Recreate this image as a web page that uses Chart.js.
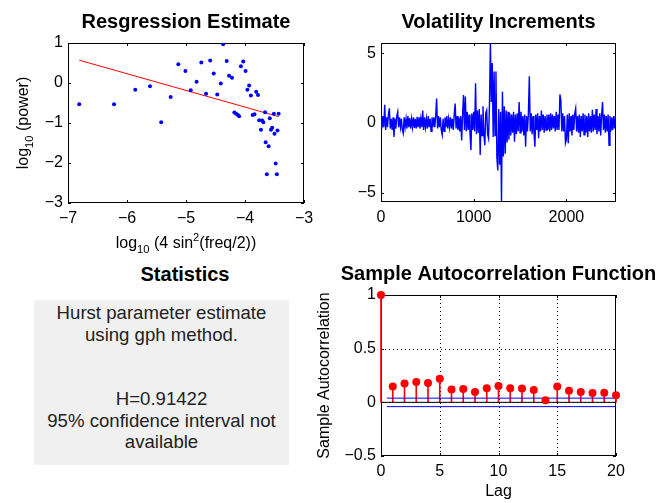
<!DOCTYPE html>
<html>
<head>
<meta charset="utf-8">
<script src="https://cdn.jsdelivr.net/npm/chart.js@4/dist/chart.umd.min.js"></script>
<style>
  body { margin: 0; background: #fff; }
  #page { position: relative; width: 659px; height: 503px; overflow: hidden; font-family: "Liberation Sans", Arial, sans-serif; }
  canvas { position: absolute; }
  #statsTitle { position: absolute; left: 85px; width: 200px; top: 262px; height: 24px; line-height: 24px; text-align: center; font-weight: bold; font-size: 20px; color: #000; }
  #statsBox { position: absolute; left: 34px; top: 300px; width: 255px; height: 165px; background: #f0f0f0; color: #222; font-size: 18.6px; line-height: 21.5px; text-align: center; padding-top: 2px; box-sizing: border-box; }
</style>
</head>
<body>
<div id="page">
  <canvas id="regChart" width="330" height="255" style="left:0;top:0"></canvas>
  <canvas id="volChart" width="329" height="255" style="left:330px;top:0"></canvas>
  <div id="statsTitle">Statistics</div>
  <div id="statsBox">Hurst parameter estimate<br>using gph method.<br><br><br>H=0.91422<br>95% confidence interval not<br>available</div>
  <canvas id="acfChart" width="359" height="248" style="left:300px;top:255px"></canvas>
</div>
<script>
const FONT = '"Liberation Sans", Arial, Helvetica, sans-serif';
Chart.defaults.font.family = FONT;
Chart.defaults.color = '#000';

// regression estimate (log periodogram)
const regX = [-6.81,-6.22,-5.86,-5.61,-5.42,-5.26,-5.13,-5.01,-4.92,-4.82,-4.74,-4.66,-4.59,-4.53,-4.47,-4.41,-4.37,-4.31,-4.27,-4.22,
  -4.18,-4.15,-4.12,-4.10,-4.07,-4.03,-3.99,-3.96,-3.93,-3.90,-3.87,-3.84,-3.81,-3.78,-3.76,-3.73,-3.71,-3.69,-3.66,-3.65,
  -3.63,-3.60,-3.58,-3.56,-3.54,-3.51,-3.50,-3.48,-3.46,-3.45,-3.43];
const regY = [-0.53,-0.53,-0.17,-0.08,-0.98,-0.35,0.47,0.30,-0.18,0.03,0.51,-0.27,0.56,0.24,-0.29,-0.01,0.97,0.55,0.18,0.13,
  -0.74,-0.77,-0.80,-0.83,0.42,0.54,0.30,-0.17,-0.06,-0.31,-0.80,-0.78,-0.22,-0.30,-0.93,-1.17,-0.94,-0.98,-0.73,-1.48,
  -2.28,-1.58,-0.88,-1.17,-1.12,-0.77,-1.27,-2.01,-2.28,-1.19,-0.77];
const fitX = [-6.81, -3.43];
const fitY = [0.57, -0.84];
const regXTicks = [-7, -6, -5, -4, -3];
const regYTicks = [-3, -2, -1, 0, 1];

// volatility increments, one value every 10 observations
const volStep = 10;
const volValues = [
  0.3,-0.4,0.5,-0.3,1.3,-0.5,0.4,-0.3,0.6,1.05,-0.4,0.3,-0.5,0.4,-1.0,0.3,-0.4,0.5,0.8,-0.3,
  0.4,-0.3,0.3,-0.5,-0.75,0.4,-0.3,0.3,-0.4,0.5,-0.3,0.35,-0.4,0.3,-0.3,0.4,-0.35,0.3,-0.4,0.45,
  -0.3,0.4,-0.4,0.3,-0.3,0.9,-0.5,0.4,-0.3,0.3,-0.4,0.5,-0.3,0.3,-0.6,0.4,-0.3,0.4,-0.3,0.5,
  1.75,-0.4,0.5,-0.3,0.4,-0.5,-0.85,0.3,-0.6,0.4,-0.3,0.5,-0.4,0.3,-0.3,0.4,-0.4,0.3,-0.5,0.6,
  1.4,-0.4,0.5,-0.5,0.4,-0.6,0.5,-1.25,0.6,2.0,-0.5,1.9,-0.6,0.8,-0.5,0.6,-0.7,-1.95,0.7,-0.5,
  0.8,-0.6,2.85,-0.8,0.9,-0.7,1.0,-2.3,0.6,-0.9,1.2,-0.8,-1.6,0.7,0.9,-0.8,-1.1,1.3,5.74,1.5,
  4.3,-1.0,3.7,-0.9,3.7,-2.5,-3.4,1.0,-3.0,0.8,-5.67,2.25,-2.4,1.2,-2.2,0.9,-1.4,0.8,-1.2,0.7,
  -0.9,0.6,-0.7,0.8,-1.35,0.6,-0.8,0.7,-0.6,1.5,-0.7,0.8,-0.6,0.5,-0.9,0.6,-1.7,0.5,-0.6,0.7,
  3.35,-0.6,0.7,-0.8,0.5,-0.7,-1.7,0.6,-0.5,0.7,-1.1,0.5,-0.6,0.9,-0.5,0.6,-0.7,0.5,-0.5,0.6,
  -0.5,0.6,-0.6,0.7,-0.5,0.6,-0.4,0.5,-0.6,0.8,-0.5,0.6,-0.5,2.05,1.65,-0.6,0.7,-0.6,0.5,-1.45,
  -1.2,0.6,-1.45,0.7,-0.6,0.5,-0.9,0.6,-0.5,0.7,1.05,-0.6,0.5,-0.7,0.6,-1.0,0.5,-0.6,0.7,-0.85,
  0.6,-0.7,0.5,-1.0,0.7,-0.6,0.5,-0.7,0.95,-0.6,0.6,-0.5,1.0,-0.8,0.5,-0.6,0.7,-0.9,0.6,1.5,
  -0.5,0.6,-0.7,0.5,-0.6,0.6,-1.6,0.5,-0.6,0.4,-0.5,0.5,-0.4,0.5
];
const volXTicks = [0, 1000, 2000];
const volYTicks = [-5, 0, 5];

// sample autocorrelation
const acfLags = [0,1,2,3,4,5,6,7,8,9,10,11,12,13,14,15,16,17,18,19,20];
const acfVals = [1,0.147,0.175,0.19,0.18,0.22,0.12,0.125,0.097,0.131,0.153,0.131,0.128,0.116,0.019,0.147,0.109,0.097,0.088,0.09,0.066];
const acfBound = [0.039, -0.04];
const acfXTicks = [0, 5, 10, 15, 20];
const acfYTicks = [-0.5, 0, 0.5, 1];

const minus = v => String(v).replace('-', '\u2212');

function richText(ctx, parts, cx, cy, size, rotate) {
  ctx.save();
  ctx.translate(cx, cy);
  if (rotate) ctx.rotate(-Math.PI / 2);
  ctx.textBaseline = 'alphabetic';
  ctx.textAlign = 'left';
  ctx.fillStyle = '#000';
  let w = 0;
  parts.forEach(p => {
    ctx.font = (p.s ? size * 0.7 : size) + 'px ' + FONT;
    w += ctx.measureText(p.t).width;
  });
  let x = -w / 2;
  parts.forEach(p => {
    const sz = p.s ? size * 0.7 : size;
    ctx.font = sz + 'px ' + FONT;
    const dy = p.s === 'sub' ? size * 0.3 : (p.s === 'sup' ? -size * 0.45 : 0);
    ctx.fillText(p.t, x, dy);
    x += ctx.measureText(p.t).width;
  });
  ctx.restore();
}

// matlab look: full box, inward ticks, dotted grid, titles
const matlabAxes = {
  id: 'matlabAxes',
  beforeDatasetsDraw(chart, args, o) {
    const {ctx, chartArea: a, scales: {x, y}} = chart;
    ctx.save();
    ctx.strokeStyle = '#000';
    ctx.lineWidth = 1;
    if (o.grid) {
      ctx.setLineDash([1, 3]);
      x.ticks.forEach(t => {
        const px = Math.round(x.getPixelForValue(t.value)) + 0.5;
        if (px < a.left + 2 || px > a.right - 2) return;
        ctx.beginPath(); ctx.moveTo(px, a.top); ctx.lineTo(px, a.bottom); ctx.stroke();
      });
      y.ticks.forEach(t => {
        const py = Math.round(y.getPixelForValue(t.value)) + 0.5;
        if (py < a.top + 2 || py > a.bottom - 2) return;
        ctx.beginPath(); ctx.moveTo(a.left, py); ctx.lineTo(a.right, py); ctx.stroke();
      });
      ctx.setLineDash([]);
    }
    ctx.strokeRect(a.left + 0.5, a.top + 0.5, a.right - a.left - 1, a.bottom - a.top - 1);
    const len = 3;
    ctx.beginPath();
    x.ticks.forEach(t => {
      const px = Math.round(x.getPixelForValue(t.value)) + 0.5;
      ctx.moveTo(px, a.bottom); ctx.lineTo(px, a.bottom - len);
      ctx.moveTo(px, a.top); ctx.lineTo(px, a.top + len);
    });
    y.ticks.forEach(t => {
      const py = Math.round(y.getPixelForValue(t.value)) + 0.5;
      ctx.moveTo(a.left, py); ctx.lineTo(a.left + len, py);
      ctx.moveTo(a.right, py); ctx.lineTo(a.right - len, py);
    });
    ctx.stroke();
    ctx.restore();
  },
  afterDraw(chart, args, o) {
    const {ctx, chartArea: a} = chart;
    ctx.save();
    ctx.fillStyle = '#000';
    ctx.font = 'bold 20px ' + FONT;
    ctx.textAlign = 'center';
    ctx.textBaseline = 'alphabetic';
    if (o.title) ctx.fillText(o.title, (a.left + a.right) / 2, a.top - 15);
    ctx.restore();
    if (o.xLabel) richText(ctx, o.xLabel, (a.left + a.right) / 2, a.bottom + o.xLabelOffset, 16, false);
    if (o.yLabel) richText(ctx, o.yLabel, a.left - o.yLabelOffset, (a.top + a.bottom) / 2, 16, true);
  }
};

function axis(min, max, ticks, size, isX) {
  return {
    type: 'linear', min: min, max: max, offset: false,
    afterFit: s => { if (isX) s.height = size; else s.width = size; },
    afterBuildTicks: s => { s.ticks = ticks.map(v => ({value: v})); },
    grid: {display: false, drawTicks: false, tickLength: 0},
    border: {display: false},
    ticks: {padding: isX ? 6 : 5, font: {size: 16}, maxRotation: 0, autoSkip: false, callback: v => minus(v)}
  };
}

const base = {
  responsive: false,
  animation: false,
  events: [],
  plugins: {legend: {display: false}, tooltip: {enabled: false}}
};

new Chart(document.getElementById('regChart'), {
  type: 'scatter',
  data: {
    datasets: [
      {data: regX.map((v, i) => ({x: v, y: regY[i]})), backgroundColor: '#0000ff', borderWidth: 0, pointRadius: 2},
      {type: 'line', data: fitX.map((v, i) => ({x: v, y: fitY[i]})), borderColor: '#ff0000', borderWidth: 1, pointRadius: 0}
    ]
  },
  options: Object.assign({}, base, {
    layout: {padding: {top: 43, right: 26, left: 0, bottom: 0}},
    scales: {x: axis(-7, -3, regXTicks, 52, true), y: axis(-3, 1, regYTicks, 68, false)},
    plugins: Object.assign({}, base.plugins, {matlabAxes: {
      title: 'Resgression Estimate',
      xLabel: [{t: 'log'}, {t: '10', s: 'sub'}, {t: ' (4 sin'}, {t: '2', s: 'sup'}, {t: '(freq/2))'}],
      xLabelOffset: 45,
      yLabel: [{t: 'log'}, {t: '10', s: 'sub'}, {t: ' (power)'}],
      yLabelOffset: 40
    }})
  }),
  plugins: [matlabAxes]
});

new Chart(document.getElementById('volChart'), {
  type: 'line',
  data: {
    datasets: [{
      data: volValues.map((v, i) => ({x: i * volStep, y: v})),
      borderColor: '#0000ff', borderWidth: 1.4, pointRadius: 0, tension: 0
    }]
  },
  options: Object.assign({}, base, {
    layout: {padding: {top: 43, right: 43, left: 0, bottom: 0}},
    scales: {x: axis(0, 2535, volXTicks, 53, true), y: axis(-5.67, 5.74, volYTicks, 51, false)},
    plugins: Object.assign({}, base.plugins, {matlabAxes: {title: 'Volatility Increments'}})
  }),
  plugins: [matlabAxes]
});

new Chart(document.getElementById('acfChart'), {
  type: 'scatter',
  data: {
    datasets: [
      {data: acfLags.map((l, i) => ({x: l, y: acfVals[i]})), backgroundColor: '#ff0000', borderWidth: 0, pointRadius: 4, clip: false},
      {type: 'line', data: [{x: 0.5, y: acfBound[0]}, {x: 20, y: acfBound[0]}], borderColor: '#0000ff', borderWidth: 1, pointRadius: 0},
      {type: 'line', data: [{x: 0.5, y: acfBound[1]}, {x: 20, y: acfBound[1]}], borderColor: '#0000ff', borderWidth: 1, pointRadius: 0},
      {type: 'line', data: [{x: 0, y: 0}, {x: 20, y: 0}], borderColor: '#000', borderWidth: 1, pointRadius: 0},
      {type: 'bar', data: acfLags.map((l, i) => ({x: l, y: acfVals[i]})), backgroundColor: '#ff0000', barThickness: 1, clip: false}
    ]
  },
  options: Object.assign({}, base, {
    layout: {padding: {top: 40, right: 43, left: 0, bottom: 0}},
    scales: {x: axis(0, 20, acfXTicks, 47, true), y: axis(-0.5, 1, acfYTicks, 81, false)},
    plugins: Object.assign({}, base.plugins, {matlabAxes: {
      title: 'Sample Autocorrelation Function',
      grid: true,
      xLabel: [{t: 'Lag'}],
      xLabelOffset: 40,
      yLabel: [{t: 'Sample Autocorrelation'}],
      yLabelOffset: 52
    }})
  }),
  plugins: [matlabAxes]
});
</script>
</body>
</html>
